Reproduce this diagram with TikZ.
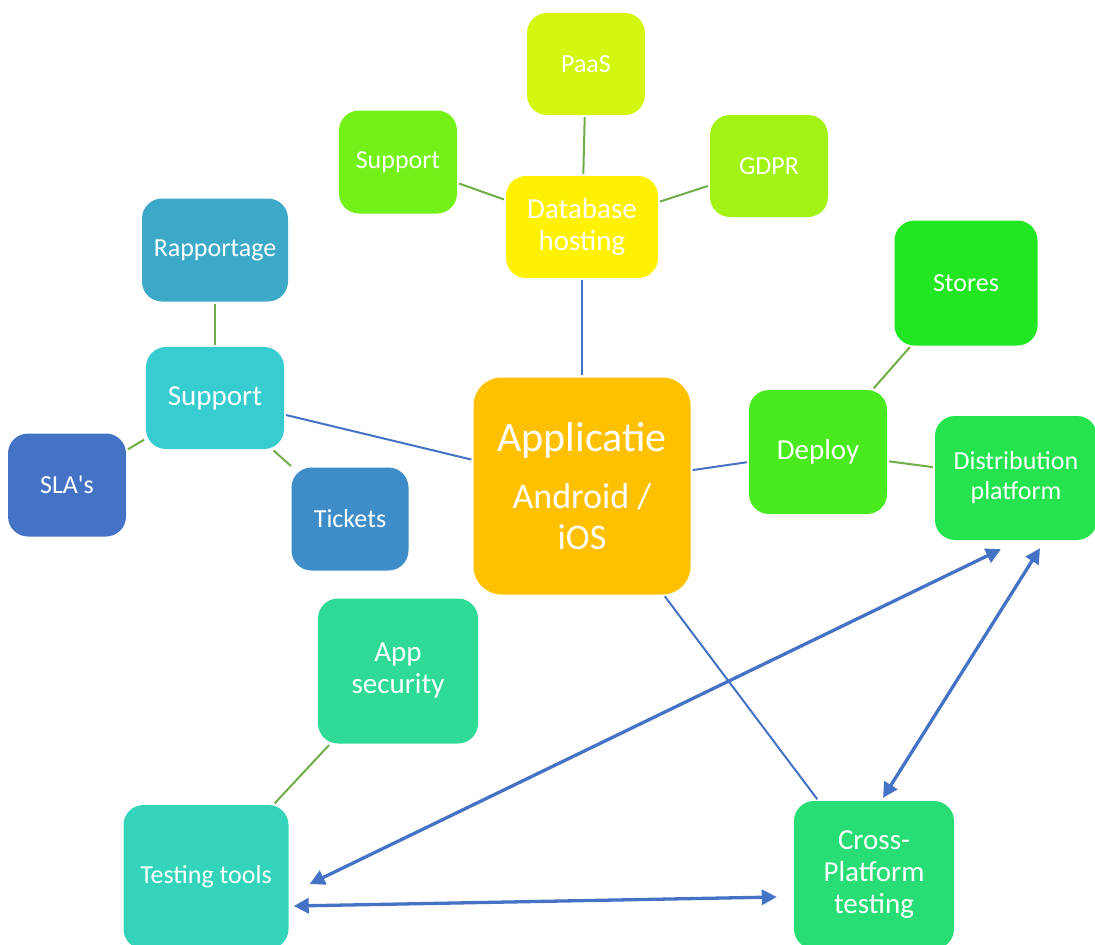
\documentclass[tikz,border=0pt]{standalone}
\usepackage{fontspec}
\setmainfont{Carlito}
\usetikzlibrary{arrows.meta}
\definecolor{paascol}{HTML}{D4F50D}
\definecolor{supdbcol}{HTML}{72F018}
\definecolor{gdprcol}{HTML}{A2F214}
\definecolor{dbcol}{HTML}{FFF200}
\definecolor{rappcol}{HTML}{3DA9C9}
\definecolor{supcol}{HTML}{37CDD0}
\definecolor{slacol}{HTML}{4472C4}
\definecolor{tickcol}{HTML}{3E8DC8}
\definecolor{appcol}{HTML}{FFC000}
\definecolor{deploycol}{HTML}{4AEB1E}
\definecolor{storescol}{HTML}{22E622}
\definecolor{distcol}{HTML}{24E34E}
\definecolor{appseccol}{HTML}{2EDA96}
\definecolor{testcol}{HTML}{33D4B9}
\definecolor{crosscol}{HTML}{28DD74}
\definecolor{linkgreen}{HTML}{70AD47}
\definecolor{linkblue}{HTML}{4472C4}
\begin{document}
\begin{tikzpicture}[x=1pt,y=-1pt,
  box/.style={rectangle, rounded corners=20pt, inner sep=0pt, text=white, align=center, font=\fontsize{26}{30}\selectfont},
  bigbox/.style={box, font=\fontsize{29}{32}\selectfont},
  twig/.style={draw=linkgreen, line width=2pt, shorten <=2pt, shorten >=2pt},
  stem/.style={draw=linkblue, line width=2pt, shorten <=2pt, shorten >=2pt},
  link/.style={draw=linkblue, line width=3.3pt, {Triangle[length=15pt,width=15pt]}-{Triangle[length=15pt,width=15pt]}}]
\useasboundingbox (0,0) rectangle (1095,945);

\node [box, fill=paascol, minimum width=118, minimum height=102] (paas) at (586,64) {PaaS};
\node [box, fill=supdbcol, minimum width=118, minimum height=103] (supdb) at (398,162) {Support};
\node [box, fill=gdprcol, minimum width=118, minimum height=102] (gdpr) at (769,166) {GDPR};
\node [bigbox, fill=dbcol, minimum width=152, minimum height=102] (db) at (582,227) {Database\\hosting};

\node [box, fill=rappcol, minimum width=146, minimum height=103] (rapp) at (215,250) {Rapportage};
\node [bigbox, fill=supcol, minimum width=138, minimum height=102] (sup) at (215,398) {Support};
\node [box, fill=slacol, minimum width=118, minimum height=103] (sla) at (67,485) {SLA\textquotesingle s};
\node [box, fill=tickcol, minimum width=117, minimum height=103] (tick) at (350,519) {Tickets};

\node [box, fill=appcol, rounded corners=28pt, minimum width=217, minimum height=217, font=\fontsize{36}{41}\selectfont] (app) at (582,486) {{\fontsize{42}{41}\selectfont Applicatie}\\[16pt]Android /\\iOS};

\node [bigbox, fill=deploycol, minimum width=138, minimum height=124] (deploy) at (818,452) {Deploy};
\node [box, fill=storescol, minimum width=143, minimum height=125] (stores) at (966,283) {Stores};
\node [box, fill=distcol, minimum width=162, minimum height=124] (dist) at (1016,478) {Distribution\\platform};

\node [bigbox, fill=appseccol, minimum width=160, minimum height=145] (appsec) at (398,671) {App\\security};
\node [box, fill=testcol, minimum width=165, minimum height=144] (test) at (206,877) {Testing tools};
\node [bigbox, fill=crosscol, minimum width=160, minimum height=148] (cross) at (874,875) {Cross-\\Platform\\testing};

\draw [twig] (paas) -- (db);
\draw [twig] (supdb) -- (db);
\draw [twig] (gdpr) -- (db);
\draw [twig] (rapp) -- (sup);
\draw [twig] (sup) -- (sla);
\draw [twig] (sup) -- (tick);
\draw [twig] (stores) -- (deploy);
\draw [twig] (deploy) -- (dist);
\draw [twig] (appsec) -- (test);

\draw [stem] (db) -- (app);
\draw [stem] (sup) -- (app);
\draw [stem] (app) -- (deploy);
\draw [stem] (app) -- (cross);

\draw [link] ([shift={(-15,9)}]dist.south) -- ([shift={(21,7)}]test.east);
\draw [link] ([shift={(24,8)}]dist.south) -- ([shift={(9,-3)}]cross.north);
\draw [link] ([shift={(5,29)}]test.east) -- ([shift={(-17,22)}]cross.west);
\end{tikzpicture}
\end{document}
